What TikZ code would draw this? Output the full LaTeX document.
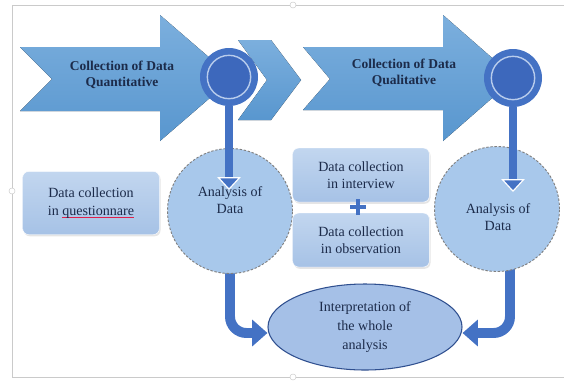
\documentclass[tikz,border=0pt]{standalone}
\usepackage{fontspec}
\setmainfont{Liberation Serif}
\usetikzlibrary{shapes.geometric, arrows.meta, shadows, positioning}

\definecolor{arrowblue}{HTML}{5B9BD5}
\definecolor{lensblue}{HTML}{4472C4}
\definecolor{lensdark}{HTML}{3D68BC}
\definecolor{lenslight}{HTML}{B8CCEC}
\definecolor{boxtop}{HTML}{C2D6EF}
\definecolor{boxbottom}{HTML}{A6C2E6}
\definecolor{circblue}{HTML}{A8C8EB}
\definecolor{ellblue}{HTML}{A5C0E7}
\definecolor{ellline}{HTML}{2F4F8F}
\definecolor{textnavy}{HTML}{1C2B4A}
\definecolor{framegray}{HTML}{CACACA}
\definecolor{spellred}{HTML}{E0204A}

\newlength{\spellwd}
\newcommand{\spellmark}[1]{\settowidth{\spellwd}{#1}\rlap{\color{spellred}\rule[-0.45ex]{\spellwd}{0.9pt}}#1}

\tikzstyle{bigarrow} = [top color=arrowblue!80!white, bottom color=arrowblue!97!black]
\tikzstyle{lens} = [circle, minimum size=1.74cm, inner sep=0pt, fill=lensblue]
\tikzstyle{lensglass} = [circle, minimum size=1.3cm, inner sep=0pt, fill=lensdark, draw=lenslight, line width=1.2pt]
\tikzstyle{titletext} = [text=textnavy, align=center, font=\fontsize{11.5}{14}\selectfont\bfseries]
\tikzstyle{bodytext} = [text=textnavy, align=center, font=\fontsize{12}{15}\selectfont]
\tikzstyle{collect} = [rectangle, rounded corners=5pt, minimum width=4.1cm, minimum height=1.62cm, text centered, align=center, top color=boxtop, bottom color=boxbottom, draw=white, drop shadow={opacity=0.2, shadow xshift=1pt, shadow yshift=-1.5pt}, text=textnavy, font=\fontsize{12}{15}\selectfont]
\tikzstyle{analysis} = [circle, minimum size=3.75cm, inner sep=0pt, fill=circblue, draw=gray, dashed, dash pattern=on 2pt off 1.5pt, line width=0.8pt]
\tikzstyle{interpret} = [ellipse, minimum width=5.82cm, minimum height=2.58cm, inner sep=0pt, fill=ellblue, draw=ellline, line width=0.9pt, align=center, text=textnavy, font=\fontsize{12}{16}\selectfont]
\tikzstyle{handle} = [draw=lensblue, line width=6.8pt, -{Triangle[width=20pt, length=11pt, fill=lensblue, color=white, line width=1pt]}]
\tikzstyle{bendarrow} = [draw=lensblue, line width=8.5pt, rounded corners=14pt, -{Triangle[width=22pt, length=13pt]}]
\tikzstyle{dot} = [circle, minimum size=0.18cm, inner sep=0pt, draw=framegray, fill=white]

\begin{document}
\begin{tikzpicture}[x=0.03cm, y=-0.03cm, node distance=1.95cm]
        \useasboundingbox (0,0) rectangle (564,381);
        \fill [white] (0,0) rectangle (564,381);

        % frame of the picture
        \draw [framegray, line width=0.8pt] (564,5) -- (12,5) -- (12,377) -- (564,377);
        \node (dottop) [dot] at (293,5) {};
        \node (dotleft) [dot] at (12,191) {};
        \node (dotbottom) [dot] at (293,377) {};

        % arrows at the top
        \fill [bigarrow] (238,40) -- (271,40) -- (301,80) -- (271,120) -- (238,120) -- (267,80) -- cycle;
        \fill [bigarrow] (20,47) -- (160,47) -- (160,15) -- (233,78) -- (160,141) -- (160,111) -- (20,111) -- (52,79) -- cycle;
        \fill [bigarrow] (303,47) -- (443,47) -- (443,15) -- (515,78) -- (443,141) -- (443,110) -- (303,110) -- (330,79) -- cycle;
        \node (quant) [titletext] at (122,75) {Collection of Data\\Quantitative};
        \node (qual) [titletext] at (404,73) {Collection of Data\\Qualitative};

        % boxes, circles and the ellipse
        \node (interp) [interpret] at (365,327) {Interpretation of\\the whole\\analysis};
        \draw [bendarrow] (230,270) |- ([yshift=-0.18cm]interp.west);
        \draw [bendarrow] (510,268) |- ([yshift=-0.18cm]interp.east);

        \node (questbox) [collect, minimum height=1.89cm] at (91,203) {Data collection\\in \spellmark{questionnare}};
        \node (ana1) [analysis] at (230,211) {};
        \node (ana1txt) [bodytext] at (230,200) {Analysis of\\Data};

        \node (interbox) [collect] at (361,175) {Data collection\\in interview};
        \node (obsbox) [collect, below of=interbox] {Data collection\\in observation};
        \node (plus) [minimum size=0.45cm, inner sep=0pt] at (358,207) {};
        \draw [lensblue, line width=3.4pt] (plus.west) -- (plus.east) (plus.north) -- (plus.south);

        \node (ana2) [analysis] at (497,209) {};
        \node (ana2txt) [bodytext] at (498,217) {Analysis of\\Data};

        % magnifying glasses
        \coordinate (tip1) at (229,190);
        \coordinate (tip2) at (513,192);
        \node (lens1) [lens] at (229,77) {};
        \node (lens2) [lens] at (513,78) {};
        \draw [handle] (lens1.south) -- (tip1);
        \draw [handle] (lens2.south) -- (tip2);
        \node (glass1) [lensglass] at (lens1) {};
        \node (glass2) [lensglass] at (lens2) {};
    \end{tikzpicture}
\end{document}
